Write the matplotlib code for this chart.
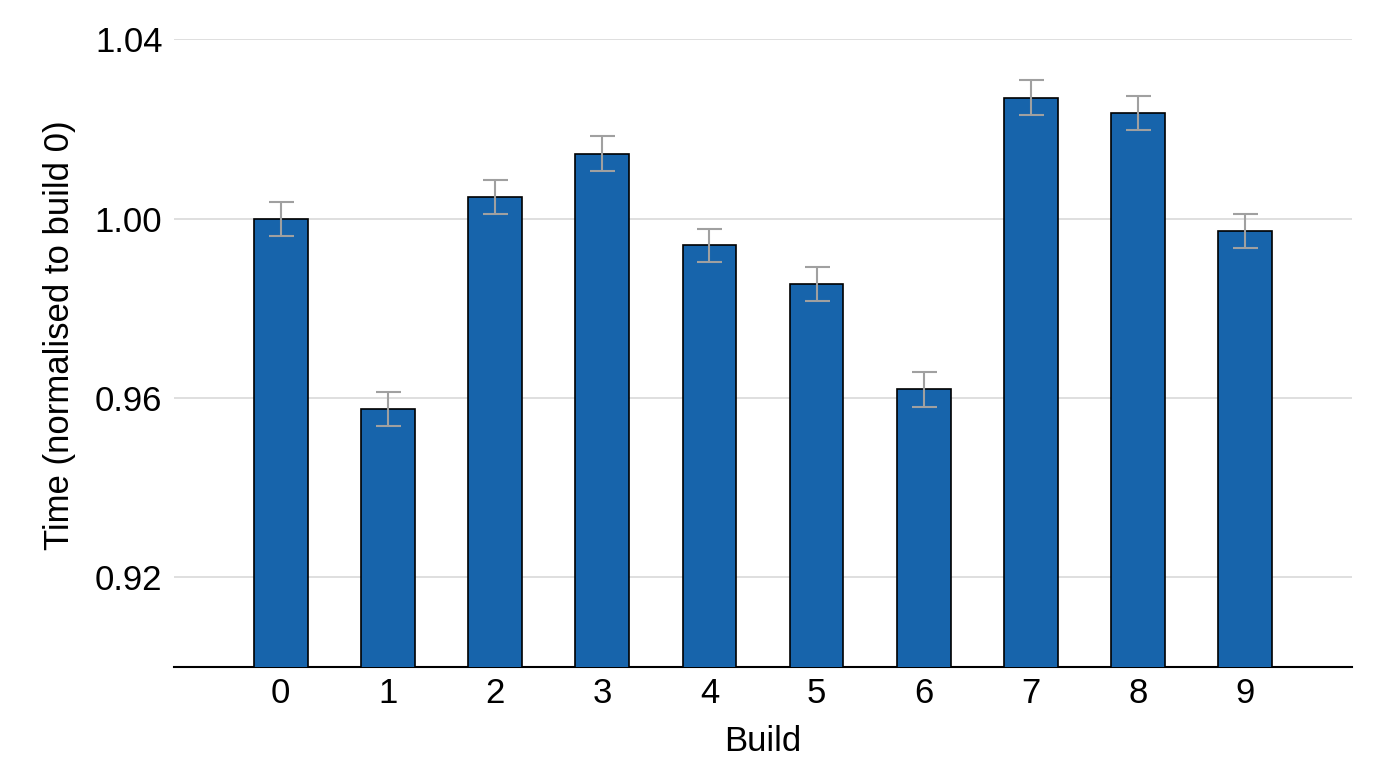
import numpy as np
import matplotlib
matplotlib.use('Agg')
import matplotlib.pyplot as plt

plt.rcParams['font.family'] = ['Liberation Sans', 'DejaVu Sans']

# data
builds = ['0', '1', '2', '3', '4', '5', '6', '7', '8', '9']
times = [1.000, 0.9575, 1.0049, 1.0145, 0.9940, 0.9855, 0.9619, 1.0269, 1.0236, 0.9973]
errs = [0.0038, 0.0038, 0.0038, 0.0038, 0.0037, 0.0038, 0.0038, 0.0039, 0.0038, 0.0038]

fig = plt.figure(figsize=(14, 7.83), dpi=100)
ax = fig.add_axes([0.124, 0.148, 0.842, 0.802])

x = np.arange(len(builds))
ax.bar(x, times, width=0.5, color='#1764ab', edgecolor='black', linewidth=1.2, zorder=3,
       yerr=errs, error_kw=dict(ecolor='#a0a0a0', elinewidth=1.5, capsize=9, capthick=1.5, zorder=4))

ax.set_xlim(-1, 10)
ax.set_ylim(0.90, 1.04)
ax.set_yticks([0.92, 0.96, 1.00, 1.04])
ax.set_yticklabels(['0.92', '0.96', '1.00', '1.04'])
ax.set_xticks(x)
ax.set_xticklabels(builds)
ax.yaxis.grid(True, color='#d9d9d9', linewidth=1.2, zorder=0)
ax.set_axisbelow(True)

for s in ['top', 'right', 'left']:
    ax.spines[s].set_visible(False)
ax.spines['bottom'].set_linewidth(1.5)
ax.tick_params(axis='y', length=0, labelsize=25, pad=8)
ax.tick_params(axis='x', length=0, labelsize=25, pad=7)

ax.set_xlabel('Build', fontsize=25, labelpad=11)
ax.set_ylabel('Time (normalised to build 0)', fontsize=25)
ax.yaxis.set_label_coords(-0.083, 0.529)

fig.savefig('out.png', dpi=100)
